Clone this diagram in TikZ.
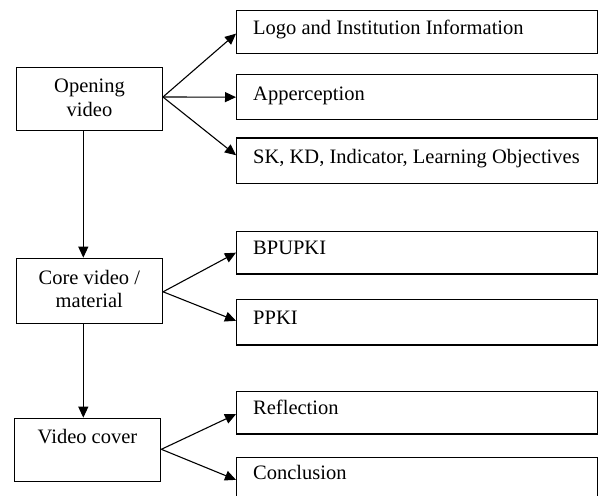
\documentclass[tikz,border=0pt]{standalone}
\usepackage{fontspec}
\setmainfont{Liberation Serif}
\usetikzlibrary{arrows.meta}
\begin{document}
\begin{tikzpicture}[x=1pt,y=-1pt,
  lbox/.style={draw, line width=1.3pt, inner sep=0pt},
  rbox/.style={draw, line width=1.3pt, minimum width=360.7pt, inner sep=0pt, anchor=north west},
  txt/.style={inner sep=0pt, font=\fontsize{20.5}{23.3}\selectfont},
  rtxt/.style={txt, anchor=base west},
  ltxt/.style={txt, anchor=base},
  arr/.style={line width=1.1pt, -{Triangle[length=11pt,width=10pt]}},
]
\clip (0,0) rectangle (601,495);
\fill[white] (0,0) rectangle (601,495);

% left boxes
\node[lbox, minimum width=145.6pt, minimum height=63.4pt] (open) at (89.5,99) {};
\node[lbox, minimum width=146.3pt, minimum height=65pt] (core) at (89.3,290.8) {};
\node[lbox, minimum width=146.4pt, minimum height=63.4pt] (cover) at (87.5,450) {};

\node[ltxt] (t-open1) at (89.5,92.7) {Opening};
\node[ltxt] (t-open2) at (89.5,116) {video};
\node[ltxt] (t-core1) at (89.3,284) {Core video /};
\node[ltxt] (t-core2) at (89.3,307.3) {material};
\node[ltxt] (t-cover) at (87.5,443.3) {Video cover};

% right boxes
\node[rbox, minimum height=43pt] (logo) at (236,10) {};
\node[rbox, minimum height=45pt] (app) at (236,74) {};
\node[rbox, minimum height=45.5pt] (sk) at (236,137.3) {};
\node[rbox, minimum height=42.6pt] (bpupki) at (236,230.7) {};
\node[rbox, minimum height=45.3pt] (ppki) at (236,299) {};
\node[rbox, minimum height=42.6pt] (refl) at (236,390.7) {};
\node[rbox, minimum height=45pt] (concl) at (236,456.7) {};

\node[rtxt] (t-logo) at (253,34.3) {Logo and Institution Information};
\node[rtxt] (t-app) at (253,100) {Apperception};
\node[rtxt] (t-sk) at (253,163.3) {SK, KD, Indicator, Learning Objectives};
\node[rtxt] (t-bpupki) at (253,254.5) {BPUPKI};
\node[rtxt] (t-ppki) at (253,324) {PPKI};
\node[rtxt] (t-refl) at (253,414.3) {Reflection};
\node[rtxt] (t-concl) at (253,479.3) {Conclusion};

% connectors
\coordinate (vx) at (83.3,0);
\coordinate (o1) at ([yshift=2pt]open.east);
\coordinate (o2) at ([yshift=-1pt]core.east);
\coordinate (o3) at ([yshift=0.7pt]cover.east);
\draw[arr] (o1) -- ([yshift=-1.5pt]logo.west);
\draw[arr] (o1) -- (app.west);
\draw[arr] (o1) -- ([yshift=5.5pt]sk.west);
\draw[arr] (o2) -- (bpupki.west);
\draw[arr] (o2) -- ([yshift=1.5pt]ppki.west);
\draw[arr] (o3) -- ([yshift=-1.5pt]refl.west);
\draw[arr] (o3) -- (concl.west);
\draw[arr] (open.south -| vx) -- (core.north -| vx);
\draw[arr] (core.south -| vx) -- (cover.north -| vx);
\end{tikzpicture}
\end{document}
